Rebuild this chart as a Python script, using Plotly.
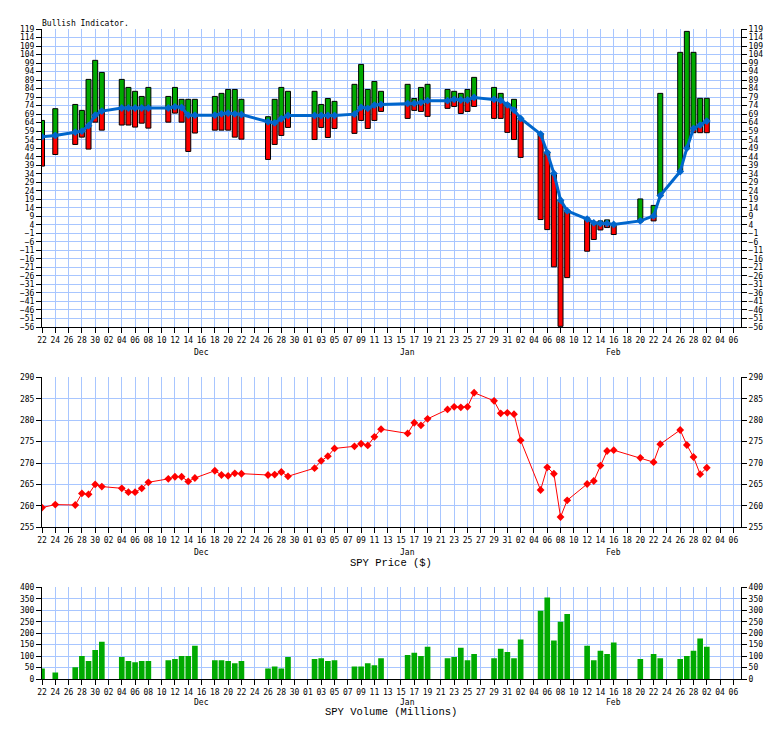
import plotly.graph_objects as go

# ---------------- data ----------------
dates = [
    "2017-11-22", "2017-11-24", "2017-11-27", "2017-11-28", "2017-11-29", "2017-11-30",
    "2017-12-01", "2017-12-04", "2017-12-05", "2017-12-06", "2017-12-07", "2017-12-08",
    "2017-12-11", "2017-12-12", "2017-12-13", "2017-12-14", "2017-12-15", "2017-12-18",
    "2017-12-19", "2017-12-20", "2017-12-21", "2017-12-22", "2017-12-26", "2017-12-27",
    "2017-12-28", "2017-12-29", "2018-01-02", "2018-01-03", "2018-01-04", "2018-01-05",
    "2018-01-08", "2018-01-09", "2018-01-10", "2018-01-11", "2018-01-12", "2018-01-16",
    "2018-01-17", "2018-01-18", "2018-01-19", "2018-01-22", "2018-01-23", "2018-01-24",
    "2018-01-25", "2018-01-26", "2018-01-29", "2018-01-30", "2018-01-31", "2018-02-01",
    "2018-02-02", "2018-02-05", "2018-02-06", "2018-02-07", "2018-02-08", "2018-02-09",
    "2018-02-12", "2018-02-13", "2018-02-14", "2018-02-15", "2018-02-16", "2018-02-20",
    "2018-02-22", "2018-02-23", "2018-02-26", "2018-02-27", "2018-02-28", "2018-03-01",
    "2018-03-02",
]

bull_high = [
    65.3, 72.2, 74.7, 71.2, 89.4, 100.6, 93.5, 89.4, 84.7, 82.4, 79.4, 84.7,
    79.4, 84.7, 77.7, 77.7, 77.7, 79.4, 81.2, 83.5, 83.5, 77.7, 67.5, 77.7,
    84.7, 82.4, 82.4, 74.7, 78.2, 76.5, 86.5, 98.2, 83.5, 88.2, 82.4, 86.5,
    78.2, 84.7, 86.5, 83.5, 82.4, 81.2, 83.5, 90.6, 84.7, 81.2, 75.3, 77.7,
    66.5, 57.7, 46.5, 34.2, 18.5, 12.6, 8.1, 5.7, 6.3, 6.9, 4.2, 19.2,
    15.4, 81.2, 105.3, 117.6, 105.3, 78.3, 78.3,
]

bull_low = [
    38.5, 45.3, 51.2, 55.5, 48.5, 64.3, 59.6, 62.6, 62.6, 61.4, 63.7, 60.8,
    64.3, 69.6, 64.3, 47.1, 57.9, 59.6, 59.6, 59.6, 55.5, 54.3, 42.4, 51.2,
    56.5, 61.2, 54.1, 61.2, 55.3, 60.6, 57.7, 65.3, 60.6, 65.3, 70.6, 66.5,
    71.2, 70.6, 67.7, 72.4, 73.5, 69.4, 70.6, 73.5, 66.5, 66.5, 58.3, 54.1,
    43.6, 7.1, 1.2, -20.7, -55.6, -27.0, -11.5, -4.6, 1.0, 2.4, -1.7, 5.7,
    6.3, 21.2, 35.3, 49.4, 58.1, 58.1, 58.1,
]

bull_avg = [
    55.7, 56.5, 58.4, 59.0, 62.2, 68.4, 70.8, 72.6, 72.6, 72.6, 72.6, 72.6,
    72.6, 73.3, 72.9, 68.4, 68.4, 68.4, 69.2, 69.6, 69.2, 68.8, 64.5, 63.9,
    66.3, 68.2, 68.2, 68.2, 68.2, 68.2, 69.0, 73.0, 72.4, 74.3, 74.7, 75.3,
    75.3, 75.9, 76.9, 76.9, 77.7, 77.3, 77.3, 78.8, 77.7, 77.1, 74.5, 71.4,
    66.5, 57.3, 46.5, 34.2, 18.5, 12.2, 7.4, 5.2, 4.8, 4.8, 4.2, 6.3,
    9.2, 21.2, 35.3, 49.0, 60.6, 62.6, 64.9,
]

spy_price = [
    259.6, 260.3, 260.2, 262.9, 262.7, 265.0, 264.5, 264.1, 263.2, 263.2, 264.1, 265.5,
    266.3, 266.8, 266.8, 265.7, 266.5, 268.2, 267.2, 267.0, 267.6, 267.5, 267.2, 267.3,
    267.9, 266.9, 268.8, 270.5, 271.6, 273.4, 273.9, 274.5, 274.1, 276.1, 277.9, 276.9,
    279.4, 278.8, 280.3, 282.5, 283.1, 283.0, 283.1, 286.4, 284.5, 281.6, 281.7, 281.4,
    275.3, 263.7, 269.0, 267.5, 257.4, 261.3, 265.1, 265.8, 269.4, 272.8, 273.0, 271.2,
    270.2, 274.4, 277.7, 274.2, 271.4, 267.4, 268.9,
]

spy_volume = [
    46, 28, 51, 100, 78, 127, 163, 96, 78, 73, 78, 78,
    82, 87, 100, 100, 145, 82, 82, 78, 69, 78, 46, 55,
    46, 96, 87, 91, 78, 82, 55, 55, 69, 60, 91, 105,
    114, 100, 141, 91, 96, 136, 82, 109, 91, 132, 118, 91,
    172, 298, 356, 168, 250, 284, 145, 82, 123, 109, 159, 87,
    109, 91, 87, 100, 123, 177, 141,
]

month_labels = ["Dec", "Jan", "Feb"]
month_label_dates = ["2017-12-16", "2018-01-16", "2018-02-16"]

# ---------------- styling ----------------
DAY = 86400000
W, H = 784, 729
ML, MR = 42, 43
GREEN = "#00AA00"
RED = "#FF0000"
BLUE = "#0066CC"
GRID = "#A8C6FF"
TICKFONT = dict(family="DejaVu Sans Mono", size=8, color="black")
TITLEFONT = dict(family="Liberation Mono", size=10.5, color="black")


def py(px):
    return 1 - px / H


def pxx(px):
    return (px - ML) / (W - ML - MR)


# top panel bar segments (split at the average line)
g_base, g_len, r_base, r_len = [], [], [], []
for hi, lo, ma in zip(bull_high, bull_low, bull_avg):
    if hi > ma:
        b = max(lo, ma)
        g_base.append(b)
        g_len.append(hi - b)
    else:
        g_base.append(None)
        g_len.append(None)
    if lo < ma:
        t = min(hi, ma)
        r_base.append(lo)
        r_len.append(t - lo)
    else:
        r_base.append(None)
        r_len.append(None)
o_len = [hi - lo for hi, lo in zip(bull_high, bull_low)]

fig = go.Figure()
bw = 0.75 * DAY
fig.add_trace(go.Bar(x=dates, y=g_len, base=g_base, width=bw, marker=dict(color=GREEN, line=dict(width=0)),
                     xaxis="x", yaxis="y", showlegend=False, hoverinfo="skip"))
fig.add_trace(go.Bar(x=dates, y=r_len, base=r_base, width=bw, marker=dict(color=RED, line=dict(width=0)),
                     xaxis="x", yaxis="y", showlegend=False, hoverinfo="skip"))
fig.add_trace(go.Bar(x=dates, y=o_len, base=bull_low, width=bw,
                     marker=dict(color="rgba(0,0,0,0)", line=dict(color="black", width=1)),
                     xaxis="x", yaxis="y", showlegend=False, hoverinfo="skip"))
fig.add_trace(go.Scatter(x=dates, y=bull_avg, mode="lines+markers",
                         line=dict(color=BLUE, width=3),
                         marker=dict(symbol="diamond", size=6, color=BLUE),
                         xaxis="x", yaxis="y", showlegend=False, hoverinfo="skip"))

fig.add_trace(go.Scatter(x=dates, y=spy_price, mode="lines+markers",
                         line=dict(color=RED, width=1),
                         marker=dict(symbol="diamond", size=6, color=RED),
                         xaxis="x2", yaxis="y2", showlegend=False, hoverinfo="skip"))

fig.add_trace(go.Bar(x=dates, y=spy_volume, width=0.85 * DAY, marker=dict(color=GREEN, line=dict(width=0)),
                     xaxis="x3", yaxis="y3", showlegend=False, hoverinfo="skip"))

# invisible traces to make right-hand mirrored axes render
for xa, ya, yv in [("x", "y4", bull_low[0]), ("x2", "y5", spy_price[0]), ("x3", "y6", spy_volume[0])]:
    fig.add_trace(go.Scatter(x=[dates[0]], y=[yv], mode="markers", marker=dict(opacity=0),
                             xaxis=xa, yaxis=ya, showlegend=False, hoverinfo="skip"))

x_range = ["2017-11-22", "2018-03-07 03:30"]
xcommon = dict(type="date", range=x_range, tick0="2017-11-22", dtick=2 * DAY, tickformat="%d",
               showgrid=True, gridcolor=GRID, gridwidth=1, ticks="outside", ticklen=5,
               tickcolor="black", showline=True, linecolor="black", linewidth=1,
               tickfont=TICKFONT, zeroline=False, fixedrange=True, automargin=False)


def ycommon(rng, t0, dt, side, grid):
    d = dict(range=rng, tick0=t0, dtick=dt, showgrid=grid, gridcolor=GRID, gridwidth=1,
             ticks="outside", ticklen=5, tickcolor="black", showline=True, linecolor="black",
             linewidth=1, tickfont=TICKFONT, zeroline=False, side=side, fixedrange=True,
             automargin=False)
    return d


dom_top = [py(327), py(29)]
dom_mid = [py(527.3), py(377.3)]
dom_bot = [py(679), py(587.3)]

fig.update_layout(
    width=W, height=H,
    margin=dict(l=ML, r=MR, t=0, b=0, pad=0, autoexpand=False),
    paper_bgcolor="white", plot_bgcolor="white",
    barmode="overlay",
    xaxis=dict(**xcommon, anchor="y", domain=[0, 1]),
    xaxis2=dict(**xcommon, anchor="y2", domain=[0, 1]),
    xaxis3=dict(**xcommon, anchor="y3", domain=[0, 1]),
    yaxis=dict(**ycommon([-56, 119], -56, 5, "left", True), domain=dom_top, anchor="x"),
    yaxis2=dict(**ycommon([255, 290], 255, 5, "left", True), domain=dom_mid, anchor="x2"),
    yaxis3=dict(**ycommon([0, 400], 0, 50, "left", True), domain=dom_bot, anchor="x3"),
    yaxis4=dict(**ycommon([-56, 119], -56, 5, "right", False), overlaying="y", anchor="x"),
    yaxis5=dict(**ycommon([255, 290], 255, 5, "right", False), overlaying="y2", anchor="x2"),
    yaxis6=dict(**ycommon([0, 400], 0, 50, "right", False), overlaying="y3", anchor="x3"),
)

annotations = [
    dict(text="Bullish Indicator.", x=pxx(40), y=py(24), xref="paper", yref="paper",
         xanchor="left", yanchor="middle", showarrow=False,
         font=dict(family="DejaVu Sans Mono", size=8, color="black")),
    dict(text="SPY Price ($)", x=pxx(391), y=py(563), xref="paper", yref="paper",
         xanchor="center", yanchor="middle", showarrow=False, font=TITLEFONT),
    dict(text="SPY Volume (Millions)", x=pxx(391), y=py(712), xref="paper", yref="paper",
         xanchor="center", yanchor="middle", showarrow=False, font=TITLEFONT),
]
for xa, ypix in [("x", 352), ("x2", 552), ("x3", 702)]:
    for lbl, d in zip(month_labels, month_label_dates):
        annotations.append(dict(text=lbl, x=d, y=py(ypix), xref=xa, yref="paper",
                                xanchor="center", yanchor="middle", showarrow=False,
                                font=TICKFONT))
fig.update_layout(annotations=annotations)

fig.write_html("out.html",
               config={"displayModeBar": False, "staticPlot": True},
               post_script="document.body.style.margin='0';document.body.style.overflow='hidden';")
